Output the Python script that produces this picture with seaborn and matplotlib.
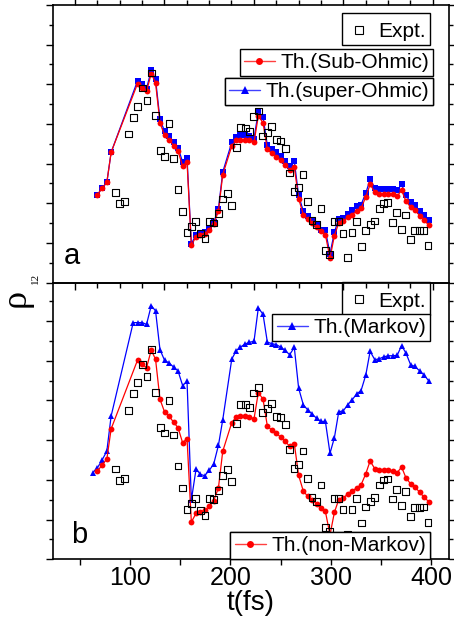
import matplotlib
matplotlib.use('Agg')
import numpy as np
import pandas as pd
import matplotlib.pyplot as plt
import seaborn as sns
from matplotlib.lines import Line2D
from matplotlib.ticker import MultipleLocator, FixedLocator

# ---------------- data (arbitrary units) ----------------
t_expt = [85.3, 89.7, 94.3, 98.7, 103.3, 107.3, 112.0, 116.7, 121.0, 125.3,
          130.0, 134.3, 138.7, 143.3, 147.7, 152.3, 156.7, 161.3, 165.3, 170.0,
          174.7, 179.0, 183.3, 188.0, 192.3, 196.7, 201.3, 205.7, 210.0, 214.7,
          219.0, 223.3, 227.7, 232.3, 236.7, 241.3, 245.7, 250.0, 254.7, 259.0,
          263.3, 268.0, 272.3, 276.7, 281.3, 286.0, 290.3, 294.7, 299.0, 303.3,
          307.7, 312.3, 317.0, 321.3, 326.0, 330.7, 335.0, 339.3, 343.7, 348.3,
          352.7, 357.0, 361.3, 366.0, 370.3, 375.0, 379.3, 383.7, 388.3, 392.7, 397.0]
rho_expt = [4.55, 3.97, 4.07, 7.49, 8.33, 8.89, 9.81, 9.19, 10.57, 8.42,
            6.65, 6.36, 8.01, 6.26, 4.70, 3.59, 2.51, 2.81, 3.08, 2.46,
            2.22, 3.07, 3.00, 3.47, 4.21, 4.51, 3.90, 6.83, 7.81, 7.79,
            7.63, 8.38, 8.65, 7.39, 7.58, 7.86, 7.21, 7.14, 6.77, 5.52,
            4.58, 4.78, 5.45, 4.07, 3.13, 2.93, 3.74, 1.62, 1.41, 3.07,
            3.07, 2.49, 1.26, 2.51, 3.07, 1.83, 2.63, 2.91, 3.10, 3.74,
            3.99, 4.04, 3.04, 3.52, 2.69, 3.41, 2.16, 2.61, 2.61, 2.63, 1.85]

t_theory = [67.3, 72.0, 76.7, 81.0,
            107.3, 112.0, 116.3, 121.0, 125.3, 129.7, 134.3, 139.0, 143.3, 147.7,
            152.3, 156.7, 161.0, 165.7, 170.0, 174.3, 179.0, 183.3, 188.0, 192.3,
            201.3, 205.7, 210.0, 214.5, 219.0, 223.5, 227.8, 232.5, 236.8, 241.2,
            245.8, 250.0, 254.7, 259.0, 263.7, 268.0, 272.7, 277.0, 281.3, 286.0,
            290.3, 294.7, 299.3, 303.7, 308.0, 312.7, 317.0, 321.3, 326.0, 330.3,
            335.0, 339.3, 344.0, 348.3, 352.7, 357.3, 361.7, 366.3, 370.7, 375.0,
            379.7, 384.0, 388.7, 393.0, 397.7]
rho_sub_ohmic = [4.43, 4.76, 5.05, 6.57,
                 10.03, 9.83, 9.65, 10.54, 10.07, 8.06, 7.42, 7.20, 6.90, 6.63,
                 5.87, 6.08, 1.87, 2.32, 2.39, 2.46, 2.66, 2.96, 3.59, 5.44,
                 6.88, 7.17, 7.20, 7.20, 7.17, 7.07, 8.40, 8.06, 6.71, 6.51,
                 6.34, 6.16, 5.94, 5.69, 5.82, 4.23, 3.43, 3.18, 3.00, 2.79,
                 2.59, 2.41, 1.23, 2.37, 3.00, 3.08, 3.30, 3.43, 3.60, 3.75,
                 4.31, 4.95, 4.56, 4.48, 4.48, 4.48, 4.44, 4.36, 4.65, 4.11,
                 3.80, 3.64, 3.38, 3.13, 2.91]
rho_super_ohmic = [4.43, 4.76, 5.05, 6.57,
                   10.17, 10.00, 9.78, 10.71, 10.25, 8.23, 7.63, 7.37, 7.10, 6.80,
                   6.08, 6.28, 1.95, 2.42, 2.49, 2.54, 2.76, 3.04, 3.71, 5.57,
                   7.07, 7.34, 7.42, 7.42, 7.37, 7.25, 8.64, 8.35, 6.92, 6.75,
                   6.58, 6.36, 6.11, 5.88, 6.11, 4.39, 3.60, 3.38, 3.16, 2.96,
                   2.66, 2.63, 1.45, 2.54, 3.22, 3.25, 3.47, 3.64, 3.85, 3.93,
                   4.51, 5.20, 4.78, 4.73, 4.70, 4.70, 4.70, 4.65, 4.95, 4.39,
                   4.06, 3.89, 3.60, 3.40, 3.16]
rho_non_markov = rho_sub_ohmic

t_markov = [62.7, 67.3, 72.0, 76.7, 81.0, 103.0,
            107.3, 112.0, 116.3, 121.0, 125.3, 129.7, 134.3, 139.0, 143.3, 147.7,
            152.3, 156.7, 161.0, 165.7, 170.0, 174.3, 179.0, 183.3, 188.0, 192.3,
            201.3, 205.7, 210.0, 214.5, 219.0, 223.5, 227.8, 232.5, 236.8, 241.2,
            245.8, 250.0, 254.7, 259.0, 263.7, 268.0, 272.7, 277.0, 281.3, 286.0,
            290.3, 294.7, 299.3, 303.7, 308.0, 312.7, 317.0, 321.3, 326.0, 330.3,
            335.0, 339.3, 344.0, 348.3, 352.7, 357.3, 361.7, 366.3, 370.7, 375.0,
            379.7, 384.0, 388.7, 393.0, 397.7]
rho_markov = [4.36, 4.61, 5.00, 5.45, 7.22, 11.92,
              11.92, 11.92, 11.83, 12.78, 12.51, 10.56, 10.02, 9.88, 9.68, 9.49,
              8.75, 8.96, 2.98, 4.55, 4.28, 4.21, 4.49, 4.80, 5.74, 7.02,
              10.08, 10.50, 10.69, 10.84, 10.93, 10.98, 12.66, 12.34, 10.94, 10.86,
              10.81, 10.69, 10.52, 10.30, 10.67, 8.62, 7.78, 7.53, 7.32, 7.10,
              6.94, 6.94, 5.34, 6.13, 7.42, 7.49, 7.78, 8.03, 8.33, 8.50,
              9.28, 10.47, 10.05, 10.10, 10.19, 10.25, 10.25, 10.27, 10.76, 10.39,
              9.80, 9.71, 9.49, 9.29, 8.99]

x_ticks = [100, 200, 300, 400]
x_label = 't(fs)'
panel_labels = ['a', 'b']

# ---------------- style ----------------
sns.set_theme(style='white')
plt.rcParams['font.family'] = ['Liberation Sans', 'DejaVu Sans']
plt.rcParams['axes.linewidth'] = 1.2

W, H = 454, 623
fig = plt.figure(figsize=(W / 100, H / 100), dpi=100)


def frac(x0, y0, x1, y1):
    return [x0 / W, 1 - y1 / H, (x1 - x0) / W, (y1 - y0) / H]


ax1 = fig.add_axes(frac(53, 5, 449, 282.5))
ax2 = fig.add_axes(frac(53, 282.5, 449, 559.3))
ax1.set_zorder(3)
ax1.patch.set_alpha(0)

RED = '#ff0000'
BLUE = '#0000ff'

# ---------------- panel a ----------------
sns.lineplot(x=t_theory, y=rho_super_ohmic, ax=ax1, color=BLUE, lw=0.9,
             marker='s', markersize=3.8, markeredgewidth=0, sort=False,
             estimator=None, legend=False, zorder=3)
sns.lineplot(x=t_theory, y=rho_sub_ohmic, ax=ax1, color=RED, lw=0.9,
             marker='o', markersize=4.2, markeredgewidth=0, sort=False,
             estimator=None, legend=False, zorder=4)
sns.scatterplot(x=t_expt, y=rho_expt, ax=ax1, marker='s', s=24, legend=False,
                zorder=5)
ax1.collections[-1].set_facecolor('none')
ax1.collections[-1].set_edgecolor('black')
ax1.collections[-1].set_linewidth(0.8)

# ---------------- panel b ----------------
sns.lineplot(x=t_markov, y=rho_markov, ax=ax2, color=BLUE, lw=0.9,
             marker='^', markersize=4.8, markeredgewidth=0, sort=False,
             estimator=None, legend=False, zorder=3)
sns.lineplot(x=t_theory, y=rho_non_markov, ax=ax2, color=RED, lw=0.9,
             marker='o', markersize=4.2, markeredgewidth=0, sort=False,
             estimator=None, legend=False, zorder=4)
sns.scatterplot(x=t_expt, y=rho_expt, ax=ax2, marker='s', s=24, legend=False,
                zorder=5)
ax2.collections[-1].set_facecolor('none')
ax2.collections[-1].set_edgecolor('black')
ax2.collections[-1].set_linewidth(0.8)

# ---------------- axes ----------------
for ax, ytop in ((ax1, 14.0), (ax2, 13.94)):
    ax.set_xlim(23, 418)
    ax.set_ylim(0, ytop)
    ax.set_xlabel('')
    ax.set_ylabel('')
    for sp in ax.spines.values():
        sp.set_visible(True)
        sp.set_color('black')
        sp.set_linewidth(1.2)
    ax.yaxis.set_major_locator(MultipleLocator(2))
    ax.yaxis.set_minor_locator(MultipleLocator(1))
    ax.tick_params(axis='y', which='both', left=True, right=True,
                   direction='out', labelleft=False, labelright=False,
                   color='black', width=1.0)
    ax.tick_params(axis='y', which='major', length=5)
    ax.tick_params(axis='y', which='minor', length=3)

# panel a: odd tick spacing on its frame
odd_pos = [401.7 - 22.3 * k for k in range(18)]
ax1.xaxis.set_major_locator(FixedLocator(odd_pos[::4]))
ax1.xaxis.set_minor_locator(FixedLocator(odd_pos))
ax1.tick_params(axis='x', which='both', bottom=True, top=True,
                labelbottom=False, labeltop=False, color='black', width=1.0)
ax1.tick_params(axis='x', which='major', direction='out', length=5)
ax1.tick_params(axis='x', which='minor', direction='out', length=3.5)

ax2.xaxis.set_major_locator(FixedLocator(x_ticks))
ax2.xaxis.set_minor_locator(MultipleLocator(50))
ax2.tick_params(axis='x', which='both', bottom=True, top=False,
                direction='out', color='black', width=1.0)
ax2.tick_params(axis='x', which='major', length=4, pad=1, labelsize=18,
                labelcolor='black')
ax2.tick_params(axis='x', which='minor', length=4)
ax2.set_xlabel(x_label, fontsize=20, color='black', labelpad=0)

# panel letters
ax1.text(0.027, 0.065, panel_labels[0], transform=ax1.transAxes,
         fontsize=21, ha='left', va='baseline', color='black')
ax2.text(0.045, 0.059, panel_labels[1], transform=ax2.transAxes,
         fontsize=21, ha='left', va='baseline', color='black')

# y label rho_12
fig.text(16 / W, 1 - 298 / H, '\u03c1', rotation=90, fontsize=26,
         family='Liberation Serif', ha='center', va='center', color='black')
fig.text(35 / W, 1 - 278 / H, '12', rotation=90, fontsize=8,
         family='Liberation Serif', ha='center', va='center', color='black')


# ---------------- legends ----------------
def add_leg(ax, handle, label, anchor, loc, hl=1.5, title=None):
    leg = ax.legend([handle], [label], loc=loc, bbox_to_anchor=anchor,
                    frameon=True, fancybox=False, fontsize=15,
                    handlelength=hl, handletextpad=0.25, borderpad=0.2,
                    borderaxespad=0, labelspacing=0.0, title=title,
                    title_fontsize=3.5, labelcolor='black')
    fr = leg.get_frame()
    fr.set_edgecolor('black')
    fr.set_linewidth(1.0)
    fr.set_facecolor('white')
    fr.set_alpha(1)
    leg.set_zorder(10)
    ax.add_artist(leg)
    return leg


h_expt = Line2D([], [], ls='none', marker='s', markersize=6,
                markerfacecolor='none', markeredgecolor='black',
                markeredgewidth=0.8)
h_sub = Line2D([], [], color='#ff4040', lw=1.0, marker='o', markersize=5,
               markerfacecolor=RED, markeredgewidth=0)
h_sup = Line2D([], [], color='#4040ff', lw=1.0, marker='^', markersize=6,
               markerfacecolor=BLUE, markeredgewidth=0)

add_leg(ax1, h_expt, 'Expt.', (0.952, 0.971), 'upper right', hl=1.3, title=' ')
add_leg(ax1, h_sub, 'Th.(Sub-Ohmic)', (0.960, 0.841), 'upper right')
add_leg(ax1, h_sup, 'Th.(super-Ohmic)', (0.960, 0.737), 'upper right')

add_leg(ax2, h_expt, 'Expt.', (0.952, 1.0), 'upper right', hl=1.3, title=' ')
add_leg(ax2, h_sup, 'Th.(Markov)', (0.952, 0.886), 'upper right')
add_leg(ax2, h_sub, 'Th.(non-Markov)', (0.952, 0.0), 'lower right')

fig.savefig('out.png', dpi=100)
